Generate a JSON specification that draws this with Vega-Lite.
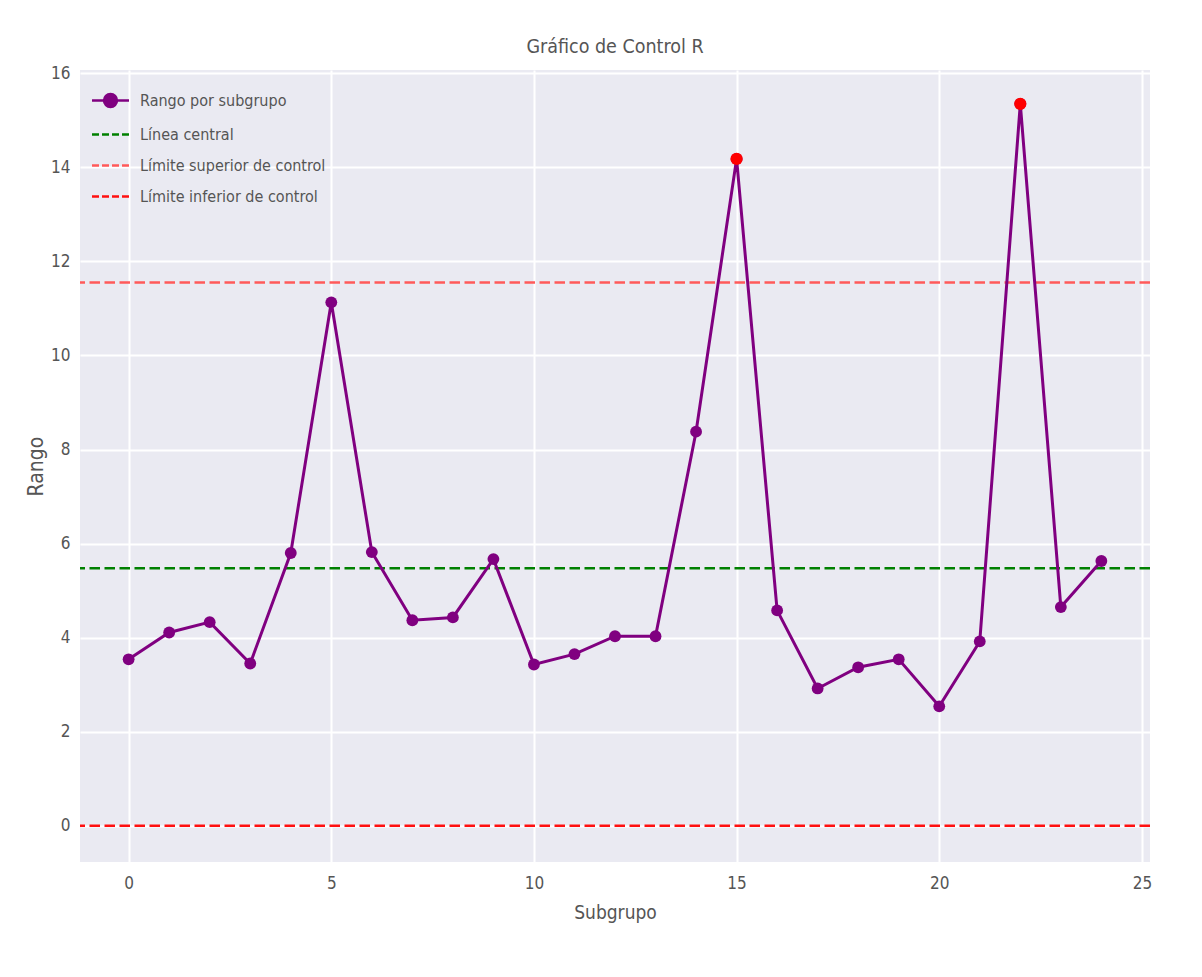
{
  "$schema": "https://vega.github.io/schema/vega-lite/v6.json",
  "width": 1070,
  "height": 792,
  "autosize": {"type": "none"},
  "padding": {"left": 80, "top": 70, "right": 52, "bottom": 115},
  "background": "#ffffff",
  "config": {
    "font": "Liberation Sans Narrow, DejaVu Sans Condensed, sans-serif",
    "view": {"fill": "#eaeaf2", "stroke": null},
    "axis": {
      "domain": false,
      "ticks": false,
      "grid": true,
      "gridColor": "#ffffff",
      "gridWidth": 2,
      "labelFontSize": 17,
      "labelColor": "#555555",
      "titleFontSize": 19,
      "titleFontWeight": "normal",
      "titleColor": "#555555"
    }
  },
  "title": {
    "text": "Gráfico de Control R",
    "fontSize": 19.5,
    "fontWeight": "normal",
    "color": "#555555",
    "offset": 7
  },
  "datasets": {
    "rangos": [
      {"subgrupo": 0, "rango": 3.54},
      {"subgrupo": 1, "rango": 4.11},
      {"subgrupo": 2, "rango": 4.33},
      {"subgrupo": 3, "rango": 3.45},
      {"subgrupo": 4, "rango": 5.80},
      {"subgrupo": 5, "rango": 11.13},
      {"subgrupo": 6, "rango": 5.82},
      {"subgrupo": 7, "rango": 4.37},
      {"subgrupo": 8, "rango": 4.43},
      {"subgrupo": 9, "rango": 5.67},
      {"subgrupo": 10, "rango": 3.43},
      {"subgrupo": 11, "rango": 3.65},
      {"subgrupo": 12, "rango": 4.03},
      {"subgrupo": 13, "rango": 4.03},
      {"subgrupo": 14, "rango": 8.38},
      {"subgrupo": 15, "rango": 14.18},
      {"subgrupo": 16, "rango": 4.58},
      {"subgrupo": 17, "rango": 2.92},
      {"subgrupo": 18, "rango": 3.37},
      {"subgrupo": 19, "rango": 3.54},
      {"subgrupo": 20, "rango": 2.54},
      {"subgrupo": 21, "rango": 3.92},
      {"subgrupo": 22, "rango": 15.35},
      {"subgrupo": 23, "rango": 4.65},
      {"subgrupo": 24, "rango": 5.63}
    ],
    "limites": [
      {"serie": "Línea central", "valor": 5.474},
      {"serie": "Límite superior de control", "valor": 11.55},
      {"serie": "Límite inferior de control", "valor": 0}
    ]
  },
  "layer": [
    {
      "data": {"name": "limites"},
      "mark": {"type": "rule", "strokeWidth": 2.5, "strokeDash": [10.5, 4.5]},
      "encoding": {
        "y": {"field": "valor", "type": "quantitative", "scale": {"domain": [-0.77, 16.07], "nice": false, "zero": false}, "axis": {"values": [0, 2, 4, 6, 8, 10, 12, 14, 16], "title": "Rango", "labelPadding": 10, "titlePadding": 4, "titleFontSize": 21}},
        "color": {
          "field": "serie",
          "type": "nominal",
          "scale": {
            "domain": ["Rango por subgrupo", "Línea central", "Límite superior de control", "Límite inferior de control"],
            "range": ["#800080", "#008000", "#ff5a5a", "#ff1010"]
          },
          "legend": {
            "title": null,
            "orient": "top-left",
            "offset": 20,
            "padding": 0,
            "labelFontSize": 16,
            "labelColor": "#555555",
            "labelLimit": 500,
            "labelOffset": 19,
            "rowPadding": 12,
            "symbolSize": 342,
            "symbolStrokeWidth": 2.5,
            "encode": {
              "symbols": {
                "update": {
                  "shape": {"signal": "datum.value === 'Rango por subgrupo' ? 'M-2,0H2M-0.7,0A0.7,0.7,0,1,1,0.7,0A0.7,0.7,0,1,1,-0.7,0Z' : 'M-2,0H2'"},
                  "strokeDash": {"signal": "datum.value === 'Rango por subgrupo' ? [] : [7, 3]"},
                  "fill": {"signal": "datum.value === 'Rango por subgrupo' ? '#800080' : 'transparent'"},
                  "fillOpacity": {"value": 1},
                  "strokeWidth": {"value": 2.5}
                }
              }
            }
          }
        }
      }
    },
    {
      "data": {"name": "rangos"},
      "mark": {"type": "line", "strokeWidth": 3},
      "encoding": {
        "x": {"field": "subgrupo", "type": "quantitative", "scale": {"domain": [-1.2, 25.2], "nice": false, "zero": false}, "axis": {"values": [0, 5, 10, 15, 20, 25], "title": "Subgrupo", "labelPadding": 13, "titlePadding": 12}},
        "y": {"field": "rango", "type": "quantitative"},
        "color": {"datum": "Rango por subgrupo"}
      }
    },
    {
      "data": {"name": "rangos"},
      "mark": {"type": "point", "filled": true, "size": 140, "opacity": 1},
      "encoding": {
        "x": {"field": "subgrupo", "type": "quantitative"},
        "y": {"field": "rango", "type": "quantitative"},
        "color": {"datum": "Rango por subgrupo"}
      }
    },
    {
      "data": {"name": "rangos"},
      "transform": [{"filter": "datum.rango > 11.55"}],
      "mark": {"type": "point", "filled": true, "size": 150, "opacity": 1, "color": "#ff0000"},
      "encoding": {
        "x": {"field": "subgrupo", "type": "quantitative"},
        "y": {"field": "rango", "type": "quantitative"}
      }
    }
  ]
}
